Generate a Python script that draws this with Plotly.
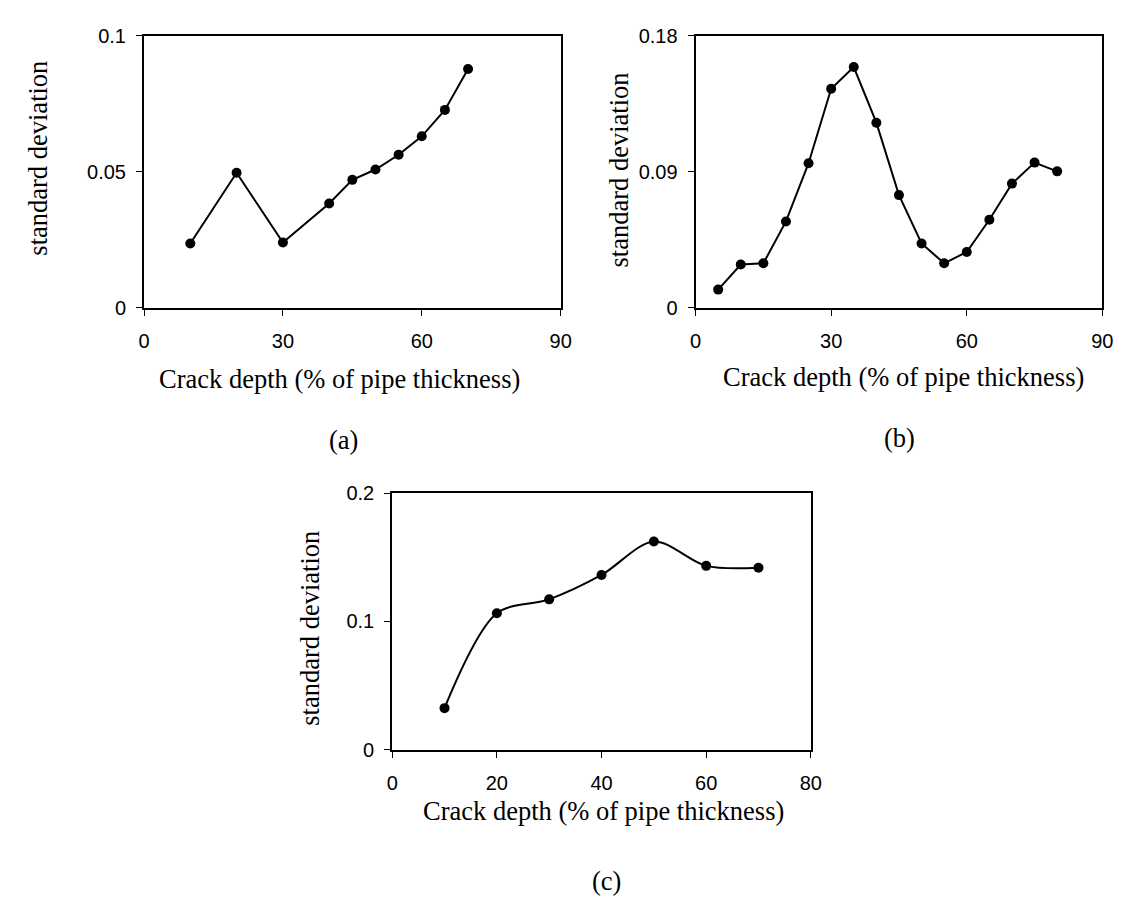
import plotly.graph_objects as go

W, H = 1128, 900

# ---- data ----
a_x = [10, 20, 30, 40, 45, 50, 55, 60, 65, 70]
a_y = [0.0236, 0.0496, 0.0240, 0.0383, 0.0470, 0.0508, 0.0562, 0.0630, 0.0727, 0.0877]

b_x = [5, 10, 15, 20, 25, 30, 35, 40, 45, 50, 55, 60, 65, 70, 75, 80]
b_y = [0.0120, 0.0286, 0.0294, 0.0571, 0.0956, 0.1448, 0.1592, 0.1224,
       0.0745, 0.0425, 0.0294, 0.0369, 0.0582, 0.0821, 0.0960, 0.0902]

c_x = [10, 20, 30, 40, 50, 60, 70]
c_y = [0.0324, 0.1063, 0.1172, 0.1362, 0.1623, 0.1433, 0.1418]

a_xticks = [0, 30, 60, 90]
a_yticks = [0, 0.05, 0.1]
a_yticklabels = ["0", "0.05", "0.1"]
b_xticks = [0, 30, 60, 90]
b_yticks = [0, 0.09, 0.18]
b_yticklabels = ["0", "0.09", "0.18"]
c_xticks = [0, 20, 40, 60, 80]
c_yticks = [0, 0.1, 0.2]
c_yticklabels = ["0", "0.1", "0.2"]

x_title = "Crack depth (% of pipe thickness)"
y_title = "standard deviation"
captions = ["(a)", "(b)", "(c)"]

SERIF = "Liberation Serif, Times New Roman, serif"
SANS = "Liberation Sans, Arial, sans-serif"
TITLE_SIZE = 26.5
TICK_SIZE = 20

fig = go.Figure()

line_style = dict(color="black", width=2)
marker_style = dict(color="black", size=10, symbol="circle")

fig.add_trace(go.Scatter(x=a_x, y=a_y, mode="lines+markers", line=line_style,
                         marker=marker_style, xaxis="x", yaxis="y", showlegend=False))
fig.add_trace(go.Scatter(x=b_x, y=b_y, mode="lines+markers", line=line_style,
                         marker=marker_style, xaxis="x2", yaxis="y2", showlegend=False))
fig.add_trace(go.Scatter(x=c_x, y=c_y, mode="lines+markers",
                         line=dict(color="black", width=2, shape="spline", smoothing=0.9),
                         marker=marker_style, xaxis="x3", yaxis="y3", showlegend=False))


def px_x(p):
    return p / W


def px_y(p):
    return 1 - p / H


common_axis = dict(showline=True, linecolor="black", linewidth=2, mirror=True,
                   ticks="outside", ticklen=6, tickwidth=1, tickcolor="black",
                   showgrid=False, zeroline=False,
                   tickfont=dict(family=SANS, size=TICK_SIZE, color="black"))

fig.update_layout(
    width=W, height=H,
    margin=dict(l=0, r=0, t=0, b=0),
    paper_bgcolor="white", plot_bgcolor="white",
    xaxis=dict(domain=[px_x(132), px_x(555)], range=[0, 90], tickvals=a_xticks,
               anchor="y", ticklabelstandoff=8, **common_axis),
    yaxis=dict(domain=[px_y(296), px_y(17)], range=[0, 0.1], tickvals=a_yticks,
               ticktext=a_yticklabels, anchor="x", ticklabelstandoff=6, **common_axis),
    xaxis2=dict(domain=[px_x(692), px_x(1105)], range=[0, 90], tickvals=b_xticks,
                anchor="y2", ticklabelstandoff=8, **common_axis),
    yaxis2=dict(domain=[px_y(296), px_y(17)], range=[0, 0.18], tickvals=b_yticks,
                ticktext=b_yticklabels, anchor="x2", ticklabelstandoff=6, **common_axis),
    xaxis3=dict(domain=[px_x(384), px_x(809)], range=[0, 80], tickvals=c_xticks,
                anchor="y3", ticklabelstandoff=8, **common_axis),
    yaxis3=dict(domain=[px_y(749), px_y(486)], range=[0, 0.2], tickvals=c_yticks,
                ticktext=c_yticklabels, anchor="x3", ticklabelstandoff=6, **common_axis),
)

font_title = dict(family=SERIF, size=TITLE_SIZE, color="black")

ann = []
# x titles
for (cx, cy) in [(330.5, 369), (903, 367), (599, 812)]:
    ann.append(dict(text=x_title, x=px_x(cx), y=px_y(cy), xref="paper", yref="paper",
                    xanchor="center", yanchor="middle", showarrow=False, font=font_title))
# y titles
for (cx, cy) in [(24, 142.5), (614, 154.5), (301, 624.5)]:
    ann.append(dict(text=y_title, x=px_x(cx), y=px_y(cy), xref="paper", yref="paper",
                    xanchor="center", yanchor="middle", textangle=-90, showarrow=False,
                    font=font_title))
# captions
for cap, (cx, cy) in zip(captions, [(335, 432), (899, 430), (602, 884)]):
    ann.append(dict(text=cap, x=px_x(cx), y=px_y(cy), xref="paper", yref="paper",
                    xanchor="center", yanchor="middle", showarrow=False, font=font_title))

fig.update_layout(annotations=ann)

fig.write_html("out.html")
